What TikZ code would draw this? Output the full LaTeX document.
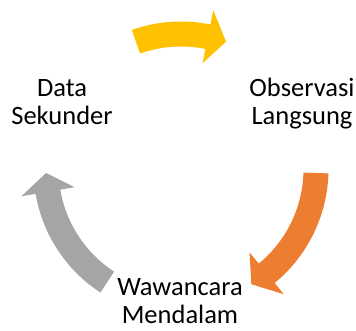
\documentclass[tikz,border=0pt]{standalone}
\usepackage{fontspec}
\setmainfont{Carlito}
\usepackage{tikz}
\definecolor{cycyellow}{HTML}{FFC000}
\definecolor{cycorange}{HTML}{ED7D31}
\definecolor{cycgray}{HTML}{A5A5A5}
% curved block arrow on the circle: tail angle, tip angle, colour
\newcommand{\arcarrow}[3]{%
 \pgfmathsetmacro{\hb}{#2+8}
 \fill[#3] (#1:147.5) arc[start angle=#1, end angle=\hb, radius=147.5]
  -- (\hb:162) -- (#2:135) -- (\hb:108) -- (\hb:122.5)
  arc[start angle=\hb, end angle=#1, radius=122.5] -- cycle;}
\tikzset{step label/.style={align=center, font=\fontsize{26.5}{28}\selectfont, inner sep=0pt, anchor=base}}

\begin{document}
\begin{tikzpicture}[x=1pt,y=1pt]
 \useasboundingbox (0,0) rectangle (356,331);
 \begin{scope}[shift={(181,162)}]
  \arcarrow{109.5}{70.5}{cycyellow}
  \arcarrow{-1.7}{-58.6}{cycorange}
  \arcarrow{236.9}{181.7}{cycgray}
 \end{scope}
 \node[step label] (data) at (62,206) {Data\\Sekunder};
 \node[step label] (obs) at (302,206) {Observasi\\Langsung};
 \node[step label] (waw) at (180,7) {Wawancara\\Mendalam};
\end{tikzpicture}
\end{document}
